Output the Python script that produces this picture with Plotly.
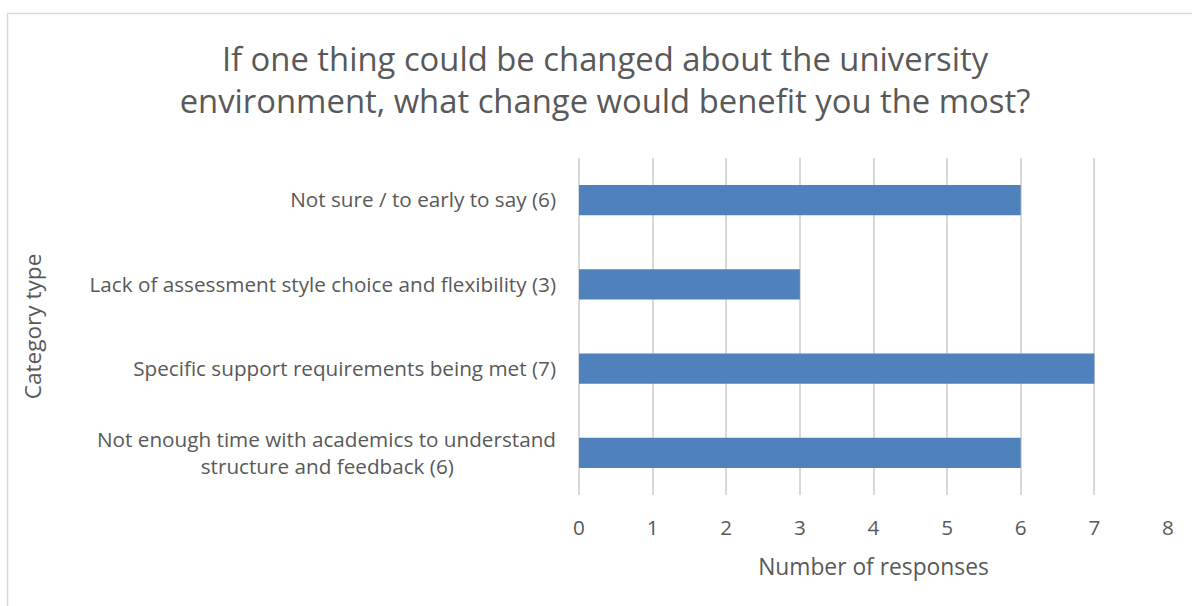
import plotly.graph_objects as go

categories = [
    "Not enough time with academics to understand<br>structure and feedback (6)" + "\u00a0" * 19,
    "Specific support requirements being met (7)",
    "Lack of assessment style choice and flexibility (3)",
    "Not sure / to early to say (6)",
]
values = [6, 7, 3, 6]
x_ticks = [0, 1, 2, 3, 4, 5, 6, 7, 8]

W, H = 1192, 606
L, R, T, B = 579, 24, 158, 111
pw, ph = W - L - R, H - T - B

def px_x(p):
    return (p - L) / pw

def px_y(p):
    return (H - B - p) / ph

txt = "#595959"
font = "Open Sans, sans-serif"

fig = go.Figure(go.Bar(
    y=categories, x=values, orientation="h",
    marker=dict(color="#4f81bd", line=dict(width=0)),
))

fig.update_layout(
    width=W, height=H,
    margin=dict(l=L, r=R, t=T, b=B, autoexpand=False),
    paper_bgcolor="white", plot_bgcolor="white",
    bargap=0.64,
    showlegend=False,
    font=dict(family=font, color=txt),
    title=dict(
        text="If one thing could be changed about the university<br>environment, what change would benefit you the most?",
        x=605 / W, xanchor="center", y=1 - 70.5 / H, yanchor="middle",
        font=dict(size=32.8, color=txt, family=font),
    ),
    xaxis=dict(
        range=[0, 8], tickvals=x_ticks, showgrid=True, gridcolor="#d9d9d9", gridwidth=1.5,
        zeroline=True, zerolinecolor="#d9d9d9", zerolinewidth=1.5, showline=False, ticks="",
        ticklabelstandoff=18,
        tickfont=dict(size=20.7, color=txt),
        title=dict(text="Number of responses", font=dict(size=22.8, color=txt), standoff=19),
    ),
    yaxis=dict(
        showgrid=False, zeroline=False, showline=False, ticks="", ticklabelstandoff=22,
        tickfont=dict(size=20.7, color=txt),
        title=dict(text="Category type", font=dict(size=22.6, color=txt), standoff=41),
    ),
    shapes=[dict(
        type="rect", xref="paper", yref="paper",
        x0=px_x(7.5), x1=px_x(1200), y0=px_y(13.5), y1=px_y(620),
        line=dict(color="#d9d9d9", width=1.5), layer="below",
    )],
)

fig.write_html("out.html")
